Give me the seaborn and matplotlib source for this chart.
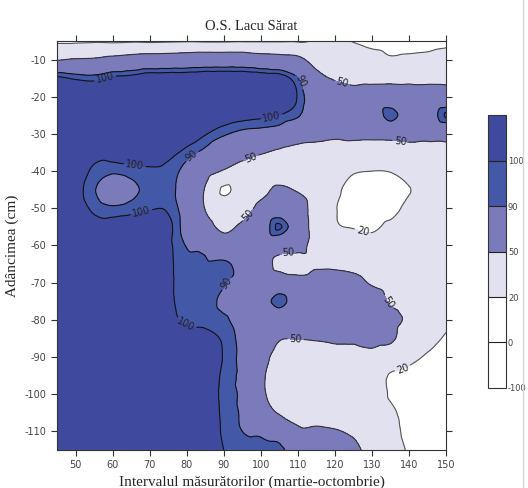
import numpy as np
import pandas as pd
import matplotlib
matplotlib.use('Agg')
import matplotlib.pyplot as plt
import matplotlib.tri as mtri
import seaborn as sns
from matplotlib.lines import Line2D

# measurement interval (x) and depth (y, cm)
interval = [45, 50, 55, 60, 65, 70, 75, 80, 85, 90, 95, 100,
            105, 110, 115, 120, 125, 130, 135, 140, 145, 150]
depth = [-5, -10, -15, -20, -25, -30, -35, -40, -45, -50, -55, -60,
         -65, -70, -75, -80, -85, -90, -95, -100, -105, -110, -115]

# values per interval column, from depth -5 down to -115
col_045 = [16, 48, 103, 112, 112, 112, 112, 112, 112, 112, 112, 112, 112, 112, 112, 112, 112, 112, 112, 112, 112, 112, 112]
col_050 = [16, 52, 98, 112, 112, 112, 112, 109, 106, 108, 112, 112, 112, 112, 112, 112, 112, 112, 112, 112, 112, 112, 112]
col_055 = [17, 53, 96, 112, 112, 112, 105, 97, 91, 97, 106, 112, 112, 112, 112, 112, 112, 112, 112, 112, 112, 112, 112]
col_060 = [16, 58, 103, 112, 112, 112, 108, 92, 80, 92, 108, 112, 112, 112, 112, 112, 112, 112, 112, 112, 112, 112, 112]
col_065 = [17, 62, 105, 112, 112, 112, 110, 95, 86, 95, 110, 112, 112, 112, 112, 112, 112, 112, 112, 112, 112, 112, 112]
col_070 = [16, 65, 110, 112, 112, 112, 108, 98, 94, 99, 110, 112, 112, 112, 112, 112, 112, 112, 112, 112, 112, 112, 112]
col_075 = [17, 66, 110, 112, 112, 110, 104, 96, 94, 98, 104, 103, 103, 103, 103, 104, 110, 112, 112, 112, 112, 112, 112]
col_080 = [18, 68, 110, 112, 112, 108, 96, 84, 80, 80, 82, 89, 93, 94, 95, 98, 106, 110, 110, 110, 110, 110, 110]
col_085 = [17, 70, 112, 113, 112, 101, 85, 62, 48, 49, 60, 84, 93, 94, 95, 97, 104, 110, 110, 110, 110, 110, 110]
col_090 = [17, 70, 112, 113, 108, 92, 70, 48, 17, 35, 45, 62, 95, 91, 87, 92, 98, 99, 97, 96, 97, 98, 100]
col_095 = [18, 70, 112, 113, 105, 85, 60, 40, 32, 38, 55, 70, 80, 82, 84, 84, 85, 85, 85, 86, 87, 90, 93]
col_100 = [18, 65, 110, 112, 103, 82, 52, 38, 42, 58, 72, 70, 68, 74, 80, 78, 72, 62, 56, 56, 62, 86, 95]
col_105 = [18, 62, 108, 110, 100, 78, 45, 36, 55, 72, 102, 65, 42, 70, 97, 70, 52, 40, 35, 38, 48, 78, 96]
col_110 = [18, 57, 91, 99, 92, 65, 40, 32, 47, 70, 72, 58, 40, 60, 75, 68, 51, 35, 30, 30, 40, 55, 70]
col_115 = [22, 40, 58, 72, 70, 58, 40, 30, 30, 32, 35, 40, 47, 60, 68, 65, 52, 36, 28, 26, 36, 55, 65]
col_120 = [25, 38, 48, 62, 66, 54, 40, 30, 24, 21, 22, 32, 46, 58, 66, 64, 54, 40, 30, 28, 34, 52, 60]
col_125 = [19, 30, 42, 62, 68, 56, 38, 22, 12, 12, 19, 32, 44, 56, 65, 62, 54, 40, 30, 27, 30, 44, 62]
col_130 = [12, 30, 44, 62, 68, 56, 36, 20, 8, 8, 16, 30, 40, 48, 60, 62, 56, 44, 36, 32, 30, 30, 32]
col_135 = [10, 23, 44, 64, 99, 58, 36, 21, 6, 10, 26, 36, 42, 44, 48, 56, 54, 36, 18, 18, 24, 26, 28]
col_140 = [10, 25, 44, 62, 72, 58, 40, 30, 19, 28, 34, 38, 40, 40, 42, 46, 36, 26, 14, 10, 12, 15, 18]
col_145 = [12, 26, 44, 62, 75, 58, 40, 32, 30, 32, 35, 38, 40, 38, 36, 32, 26, 18, 12, 10, 10, 10, 10]
col_150 = [14, 30, 44, 64, 102, 60, 42, 34, 32, 32, 34, 34, 32, 30, 28, 24, 18, 12, 10, 8, 8, 8, 8]

levels = [-100, 0, 20, 50, 90, 100, 140]
level_colors = ['#ffffff', '#ffffff', '#e1e1f0', '#7b7abb', '#4359a8', '#3f4a9e']
line_levels = [20, 50, 90, 100]
line_colors = ['#555555', '#333333', '#111111', '#111111']
cbar_ticks = [-100, 0, 20, 50, 90, 100]
x_ticks = [50, 60, 70, 80, 90, 100, 110, 120, 130, 140, 150]
y_ticks = [-10, -20, -30, -40, -50, -60, -70, -80, -90, -100, -110]

label_pos = [(58, -15.2), (110.5, -16), (103, -25.8), (122, -16.2), (137.6, -32.5),
             (81.2, -35.7), (97.3, -36.3), (66, -38.4), (67.7, -50.8), (96.5, -51.8),
             (127.4, -56.4), (107.3, -62.5), (89.8, -70), (132.3, -76.5), (79.3, -82.3),
             (109.4, -85.3), (138.4, -93.4)]

columns = [col_045, col_050, col_055, col_060, col_065, col_070, col_075, col_080,
           col_085, col_090, col_095, col_100, col_105, col_110, col_115, col_120,
           col_125, col_130, col_135, col_140, col_145, col_150]

sns.set_theme(style='ticks')
plt.rcParams['font.family'] = ['DejaVu Sans']
plt.rcParams['axes.unicode_minus'] = False
serif = ['Liberation Serif', 'DejaVu Serif']

df = pd.DataFrame(np.column_stack(columns), index=depth, columns=interval)
X, Y = np.meshgrid(df.columns.values.astype(float), df.index.values.astype(float))
Z = df.values.astype(float)

# smooth contouring through matplotlib's own triangulation refiner
triang = mtri.Triangulation(X.ravel(), Y.ravel())
interp = mtri.CubicTriInterpolator(triang, Z.ravel(), kind='geom')
refiner = mtri.UniformTriRefiner(triang)
tri_ref, z_ref = refiner.refine_field(Z.ravel(), triinterpolator=interp, subdiv=3)

fig = plt.figure(figsize=(5.28, 4.88), dpi=100)
ax = fig.add_axes([0.108, 0.078, 0.737, 0.838])

cf = ax.tricontourf(tri_ref, z_ref, levels=levels, colors=level_colors)
cl = ax.tricontour(tri_ref, z_ref, levels=line_levels, colors=line_colors, linewidths=0.8)
texts = ax.clabel(cl, fmt='%d', fontsize=7, manual=label_pos, inline=True, inline_spacing=2)
for t in texts:
    t.set_color('#222222')

ax.set_xlim(45, 150)
ax.set_ylim(-115, -5)
ax.set_xticks(x_ticks)
ax.set_yticks(y_ticks)
ax.tick_params(direction='out', length=4, width=0.8, labelsize=7, labelcolor='#444444',
               top=True, right=True, labeltop=False, labelright=False, color='#333333')
for s in ax.spines.values():
    s.set_linewidth(0.8)
    s.set_color('#333333')

ax.set_title('O.S. Lacu Sărat', fontsize=10.5, family=serif, pad=8)
ax.set_xlabel('Intervalul măsurătorilor (martie-octombrie)', fontsize=11, family=serif, labelpad=4)
ax.set_ylabel('Adâncimea (cm)', fontsize=11, family=serif, labelpad=4)

cax = fig.add_axes([0.924, 0.205, 0.034, 0.559])
cb = fig.colorbar(cf, cax=cax, ticks=cbar_ticks, drawedges=True)
cb.outline.set_linewidth(0.8)
cb.outline.set_edgecolor('#333333')
cb.dividers.set_color('#222222')
cb.dividers.set_linewidth(0.8)
cax.tick_params(labelsize=6, length=0, pad=1.5, labelcolor='#444444')

fig.add_artist(Line2D([0.99, 0.99], [0, 1], color='#d8d8d8', lw=1))

fig.savefig('out.png', dpi=100)
